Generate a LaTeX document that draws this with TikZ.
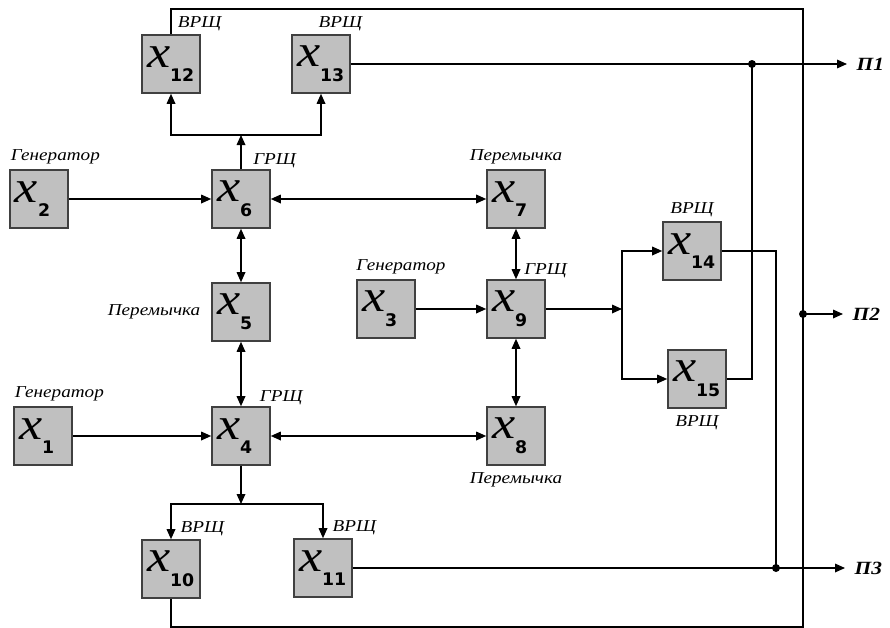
\documentclass[tikz,border=0pt]{standalone}
\usepackage{fontspec}
\setmainfont{Liberation Serif}
\newfontfamily\tagfont[FakeStretch=1.15]{Liberation Serif}
\newfontfamily\numfont{DejaVu Sans}
\usetikzlibrary{arrows.meta,positioning}
\definecolor{boxgray}{RGB}{192,192,192}
\newcommand{\xvar}[1]{{\tagfont\itshape\fontsize{34}{34}\selectfont x}%
  \raisebox{-11pt}{\numfont\bfseries\fontsize{13}{13}\selectfont #1}}

\begin{document}
\begin{tikzpicture}[x=0.75pt,y=-0.75pt,
  box/.style={draw=black!75,line width=1.2pt,fill=boxgray,
    minimum width=43.5pt,minimum height=43.5pt,text width=36pt,
    inner xsep=3.75pt,inner ysep=0pt,align=left},
  tag/.style={font=\tagfont\itshape\fontsize{12.5}{14}\selectfont,inner sep=0pt},
  port/.style={font=\tagfont\bfseries\itshape\fontsize{14}{16}\selectfont,
    inner sep=0pt,anchor=west},
  flow/.style={-{Triangle[length=7.5pt,width=6.5pt]},line width=0.9pt},
  duplex/.style={flow,{Triangle[length=7.5pt,width=6.5pt]}-{Triangle[length=7.5pt,width=6.5pt]}},
  wire/.style={line width=0.8pt},
  joint/.style={circle,fill=black,inner sep=0pt,minimum size=6pt}]
\useasboundingbox (0,0) rectangle (890,628);

% boxes
\node[box] (x1) at (43,436) {\xvar{1}};
\node[box] (x2) at (39,199) {\xvar{2}};
\node[box] (x3) at (386,309) {\xvar{3}};
\node[box] (x4) at (241,436) {\xvar{4}};
\node[box] (x5) at (241,312) {\xvar{5}};
\node[box] (x6) at (241,199) {\xvar{6}};
\node[box] (x7) at (516,199) {\xvar{7}};
\node[box] (x8) at (516,436) {\xvar{8}};
\node[box] (x9) at (516,309) {\xvar{9}};
\node[box] (x10) at (171,569) {\xvar{10}};
\node[box] (x11) at (323,568) {\xvar{11}};
\node[box] (x12) at (171,64) {\xvar{12}};
\node[box] (x13) at (321,64) {\xvar{13}};
\node[box] (x14) at (692,251) {\xvar{14}};
\node[box] (x15) at (697,379) {\xvar{15}};

% labels
\node[tag,above right=4pt and 1pt of x2.north west] (gen2) {Генератор};
\node[tag,above right=4pt and 1pt of x1.north west] (gen1) {Генератор};
\node[tag,above right=4pt and 0pt of x3.north west] (gen3) {Генератор};
\node[tag,above right=1pt and 9pt of x6.north] (grs6) {ГРЩ};
\node[tag,above right=1pt and 14pt of x4.north] (grs4) {ГРЩ};
\node[tag,above right=1pt and 6pt of x9.north] (grs9) {ГРЩ};
\node[tag,above right=2pt and 5pt of x12.north] (vrs12) {ВРЩ};
\node[tag,above right=2pt and -2pt of x13.north] (vrs13) {ВРЩ};
\node[tag,above=3pt of x14] (vrs14) {ВРЩ};
\node[tag,below=5pt of x15] (vrs15) {ВРЩ};
\node[tag,above right=2pt and 7pt of x10.north] (vrs10) {ВРЩ};
\node[tag,above right=2pt and 7pt of x11.north] (vrs11) {ВРЩ};
\node[tag,above=4pt of x7] (per7) {Перемычка};
\node[tag,left=8pt of x5] (per5) {Перемычка};
\node[tag,below=5pt of x8] (per8) {Перемычка};

% inner links
\draw[flow] (x2)--(x6);
\draw[flow] (x1)--(x4);
\draw[flow] (x3)--(x9);
\draw[duplex] (x6)--(x7);
\draw[duplex] (x6)--(x5);
\draw[duplex] (x5)--(x4);
\draw[duplex] (x4)--(x8);
\draw[duplex] (x7)--(x9);
\draw[duplex] (x9)--(x8);

\coordinate (up6) at (241,135);
\draw[flow] (x6)--(up6);
\draw[flow] (up6)-|(x12);
\draw[flow] (up6)-|(x13);
\coordinate (dn4) at (241,504);
\draw[flow] (x4)--(dn4);
\draw[flow] (dn4)-|(x10);
\draw[flow] (dn4)-|(x11);
\coordinate (sp9) at (622,309);
\draw[flow] (x9)--(sp9);
\draw[flow] (sp9)|-(x14);
\draw[flow] (sp9)|-(x15);

% outputs
\node[joint] (j1) at (752,64) {};
\node[joint] (j2) at (803,314) {};
\node[joint] (j3) at (776,568) {};
\coordinate (o1) at (847,64);
\coordinate (o2) at (843,314);
\coordinate (o3) at (845,568);
\node[port,right=7pt of o1] (P1) {П1};
\node[port,right=7pt of o2] (P2) {П2};
\node[port,right=7pt of o3] (P3) {П3};
\draw[wire] (x13)--(j1.center);
\draw[wire] (x15)-|(j1.center);
\draw[wire] (x14)-|(j3.center);
\draw[wire] (x11)--(j3.center);
\draw[flow] (j1.center)--(o1);
\draw[flow] (j2.center)--(o2);
\draw[flow] (j3.center)--(o3);
\coordinate (tl) at (171,9);
\coordinate (tr) at (803,9);
\coordinate (br) at (803,627);
\coordinate (bl) at (171,627);
\draw[wire] (x12)--(tl)--(tr)--(br)--(bl)--(x10);
\end{tikzpicture}
\end{document}
